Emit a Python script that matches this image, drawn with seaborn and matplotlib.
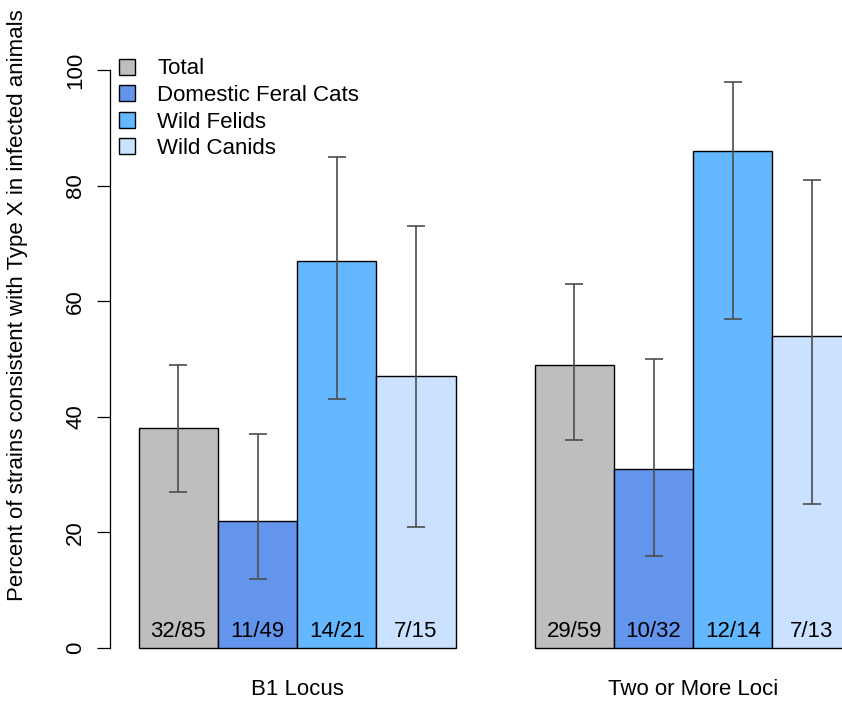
import matplotlib
matplotlib.use("Agg")
import matplotlib.pyplot as plt
import seaborn as sns
import pandas as pd
from matplotlib.patches import Patch

# ---- data ----
loci = ["B1 Locus", "Two or More Loci"]
species = ["Total", "Domestic Feral Cats", "Wild Felids", "Wild Canids"]
pct_b1 = [38, 22, 67, 47]
pct_two = [49, 31, 86, 54]
low_b1 = [27, 12, 43, 21]
high_b1 = [49, 37, 85, 73]
low_two = [36, 16, 57, 25]
high_two = [63, 50, 98, 81]
counts_b1 = ["32/85", "11/49", "14/21", "7/15"]
counts_two = ["29/59", "10/32", "12/14", "7/13"]
colors = ["#BEBEBE", "#6495ED", "#63B8FF", "#CAE1FF"]

rows = []
for loc, pcts, lows, highs, cnts in [
    (loci[0], pct_b1, low_b1, high_b1, counts_b1),
    (loci[1], pct_two, low_two, high_two, counts_two),
]:
    for sp, p, lo, hi, c in zip(species, pcts, lows, highs, cnts):
        rows.append(dict(locus=loc, species=sp, pct=p, low=lo, high=hi, count=c))
df = pd.DataFrame(rows)

sns.set_style("white")
plt.rcParams["font.family"] = ["Liberation Sans", "DejaVu Sans"]
for k in ["text.color", "axes.labelcolor", "xtick.color", "ytick.color"]:
    plt.rcParams[k] = "black"
FS = 16

W, H = 842, 701
fig = plt.figure(figsize=(W / 100, H / 100), dpi=100)
# axes: y=0 at px 648, y=100 at px 70 ; ylim (-4,104)
ax_bottom_px = 648 + 4 * 5.78
ax_top_px = 70 - 4 * 5.78
ax = fig.add_axes([110.2 / W, 1 - ax_bottom_px / H, 1 - 110.2 / W, (ax_bottom_px - ax_top_px) / H])

sns.barplot(data=df, x="locus", y="pct", hue="species", order=loci, hue_order=species,
            palette=colors, saturation=1, width=0.8, gap=0, errorbar=None,
            edgecolor="black", linewidth=1.0, legend=False, ax=ax)

# error bars and count labels at bar centers given by the library
for bar in list(ax.patches):
    cx = bar.get_x() + bar.get_width() / 2
    h = bar.get_height()
    grp = 0 if cx < 0.5 else 1
    sub = df[(df.locus == loci[grp]) & (df.pct == h)]
    fc = bar.get_facecolor()
    for _, r in sub.iterrows():
        ci = species.index(r.species)
        rgba = matplotlib.colors.to_rgba(colors[ci])
        if abs(rgba[0] - fc[0]) < 0.01 and abs(rgba[2] - fc[2]) < 0.01:
            ax.errorbar(cx, r.pct, yerr=[[r.pct - r.low], [r.high - r.pct]], fmt="none",
                        ecolor="#4d4d4d", elinewidth=1.2, capsize=6.2, capthick=1.2, zorder=5)
            ax.text(cx, 2.9, r["count"], ha="center", va="center", fontsize=FS, color="black",
                    zorder=6)

ax.set_xlim((0.64 - 3) * 0.2, (9.88 - 3) * 0.2)
ax.set_ylim(-4, 104)
ax.set_yticks([0, 20, 40, 60, 80, 100])
ax.set_yticklabels(["0", "20", "40", "60", "80", "100"], rotation=90, va="center", fontsize=FS)
ax.tick_params(axis="y", length=9.4, width=0.9, pad=8, color="black", left=True)
ax.tick_params(axis="x", length=0, pad=5.5, labelsize=FS)
ax.set_xlabel("")
for s in ["top", "right", "bottom"]:
    ax.spines[s].set_visible(False)
ax.spines["left"].set_bounds(0, 100)
ax.spines["left"].set_linewidth(0.9)
ax.spines["left"].set_color("black")
ax.grid(False)

ax.set_ylabel("Percent of strains consistent with Type X in infected animals", fontsize=FS)
lab = ax.yaxis.label
lab.set_rotation_mode("default")
lab.set_va("center")
lab.set_ha("center")
ax.yaxis.set_label_coords(17.5 / W, 1 - 305 / H, transform=fig.transFigure)

handles = [Patch(facecolor=c, edgecolor="black", linewidth=1.0) for c in colors]
ax.legend(handles, species, loc="upper left", bbox_to_anchor=(119 / W, 1 - 58.5 / H),
          bbox_transform=fig.transFigure, frameon=False, fontsize=FS,
          handlelength=0.72, handleheight=0.72, handletextpad=1.0, labelspacing=0.25,
          borderpad=0, borderaxespad=0)

fig.savefig("out.png", dpi=100)
